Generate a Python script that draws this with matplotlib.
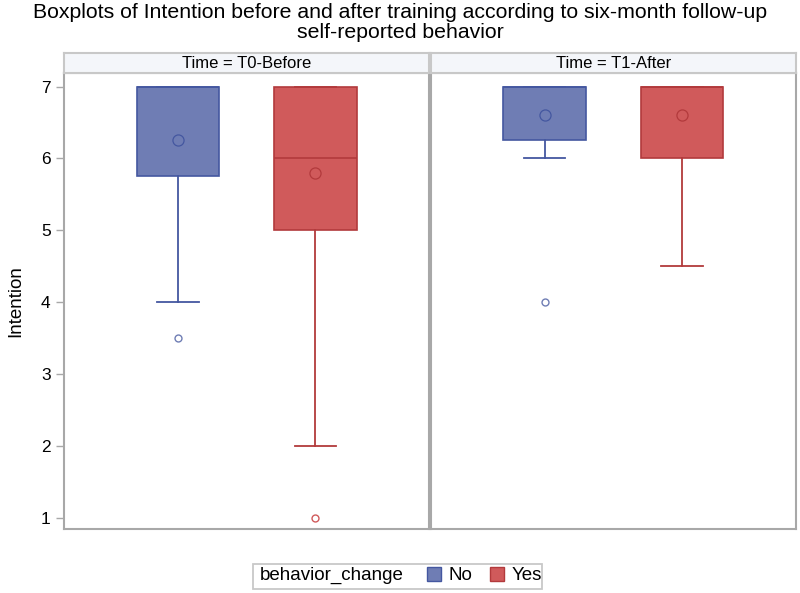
import numpy as np
import matplotlib.pyplot as plt
from matplotlib.patches import Rectangle
from matplotlib.lines import Line2D

# data
panels = ['Time = T0-Before', 'Time = T1-After']
groups = ['No', 'Yes']
q1 = [[5.75, 5.0], [6.25, 6.0]]
med = [[7.0, 6.0], [7.0, 7.0]]
q3 = [[7.0, 7.0], [7.0, 7.0]]
whislo = [[4.0, 2.0], [6.0, 4.5]]
whishi = [[7.0, 7.0], [7.0, 7.0]]
means = [[6.25, 5.8], [6.6, 6.6]]
outliers = [[[3.5], [1.0]], [[4.0], []]]

fills = ['#6F7DB4', '#D05A5B']
edges = ['#4457A0', '#B23A3C']
frame = '#A8A8A8'

plt.rcParams['font.family'] = ['Liberation Sans', 'DejaVu Sans']

fig = plt.figure(figsize=(8, 5.93), dpi=100)
fig.suptitle('Boxplots of Intention before and after training according to six-month follow-up\nself-reported behavior',
             fontsize=15.3, y=0.995, linespacing=1.08)

lefts = [0.0806, 0.5388]
width = 0.4556
bottom = 0.108
height = 0.769
axes = []
for p in range(2):
    ax = fig.add_axes([lefts[p], bottom, width, height])
    axes.append(ax)
    for g in range(2):
        st = [dict(q1=q1[p][g], med=med[p][g], q3=q3[p][g], whislo=whislo[p][g],
                   whishi=whishi[p][g], mean=means[p][g], fliers=outliers[p][g])]
        ax.bxp(st, positions=[g + 1], widths=0.6, patch_artist=True, showmeans=True,
               capwidths=0.3,
               boxprops=dict(facecolor=fills[g], edgecolor=edges[g], linewidth=1.2),
               medianprops=dict(color=edges[g], linewidth=1.2),
               whiskerprops=dict(color=edges[g], linewidth=1.3),
               capprops=dict(color=edges[g], linewidth=1.3),
               meanprops=dict(marker='o', markerfacecolor='none', markeredgecolor=edges[g],
                              markersize=8, markeredgewidth=0.9),
               flierprops=dict(marker='o', markerfacecolor='none', markeredgecolor=fills[g],
                               markersize=5, markeredgewidth=1.0))
    ax.set_xlim(0.175, 2.825)
    ax.set_ylim(0.843, 7.19)
    ax.set_xticks([])
    for s in ax.spines.values():
        s.set_color(frame)
        s.set_linewidth(1.5)
    if p == 0:
        ax.set_yticks([1, 2, 3, 4, 5, 6, 7])
        ax.tick_params(axis='y', colors=frame, labelcolor='black', labelsize=12.5, length=6,
                       width=1, pad=4)
        ax.set_ylabel('Intention', fontsize=13.5, labelpad=12)
    else:
        ax.set_yticks([])
    # header strip
    hx = fig.add_axes([lefts[p], bottom + height, width, 0.0337])
    hx.set_facecolor('#F4F6FA')
    hx.set_xticks([])
    hx.set_yticks([])
    for s in hx.spines.values():
        s.set_color('#C8C8C8')
        s.set_linewidth(1.5)
    hx.text(0.5, 0.45, panels[p], ha='center', va='center', fontsize=12)

# legend: title text plus swatches inside one frame
handles = [Line2D([], [], linestyle='none', marker='s', markersize=10,
                  markerfacecolor=fills[i], markeredgecolor=edges[i]) for i in range(2)]
leg = fig.legend(handles, groups, loc='center', bbox_to_anchor=(0.604, 0.0295),
                 ncol=2, frameon=False, fontsize=13.5, handletextpad=0.3, columnspacing=0.8,
                 borderpad=0.25, handlelength=1.0)
fig.text(0.325, 0.0295, 'behavior_change', ha='left', va='center', fontsize=13.5)
fig.patches.append(Rectangle((253 / 800, 1 - 589 / 593), 289 / 800, 25 / 593,
                             transform=fig.transFigure, fill=False, edgecolor='#C8C8C8',
                             linewidth=1.3))

fig.savefig('out.png', dpi=100)
